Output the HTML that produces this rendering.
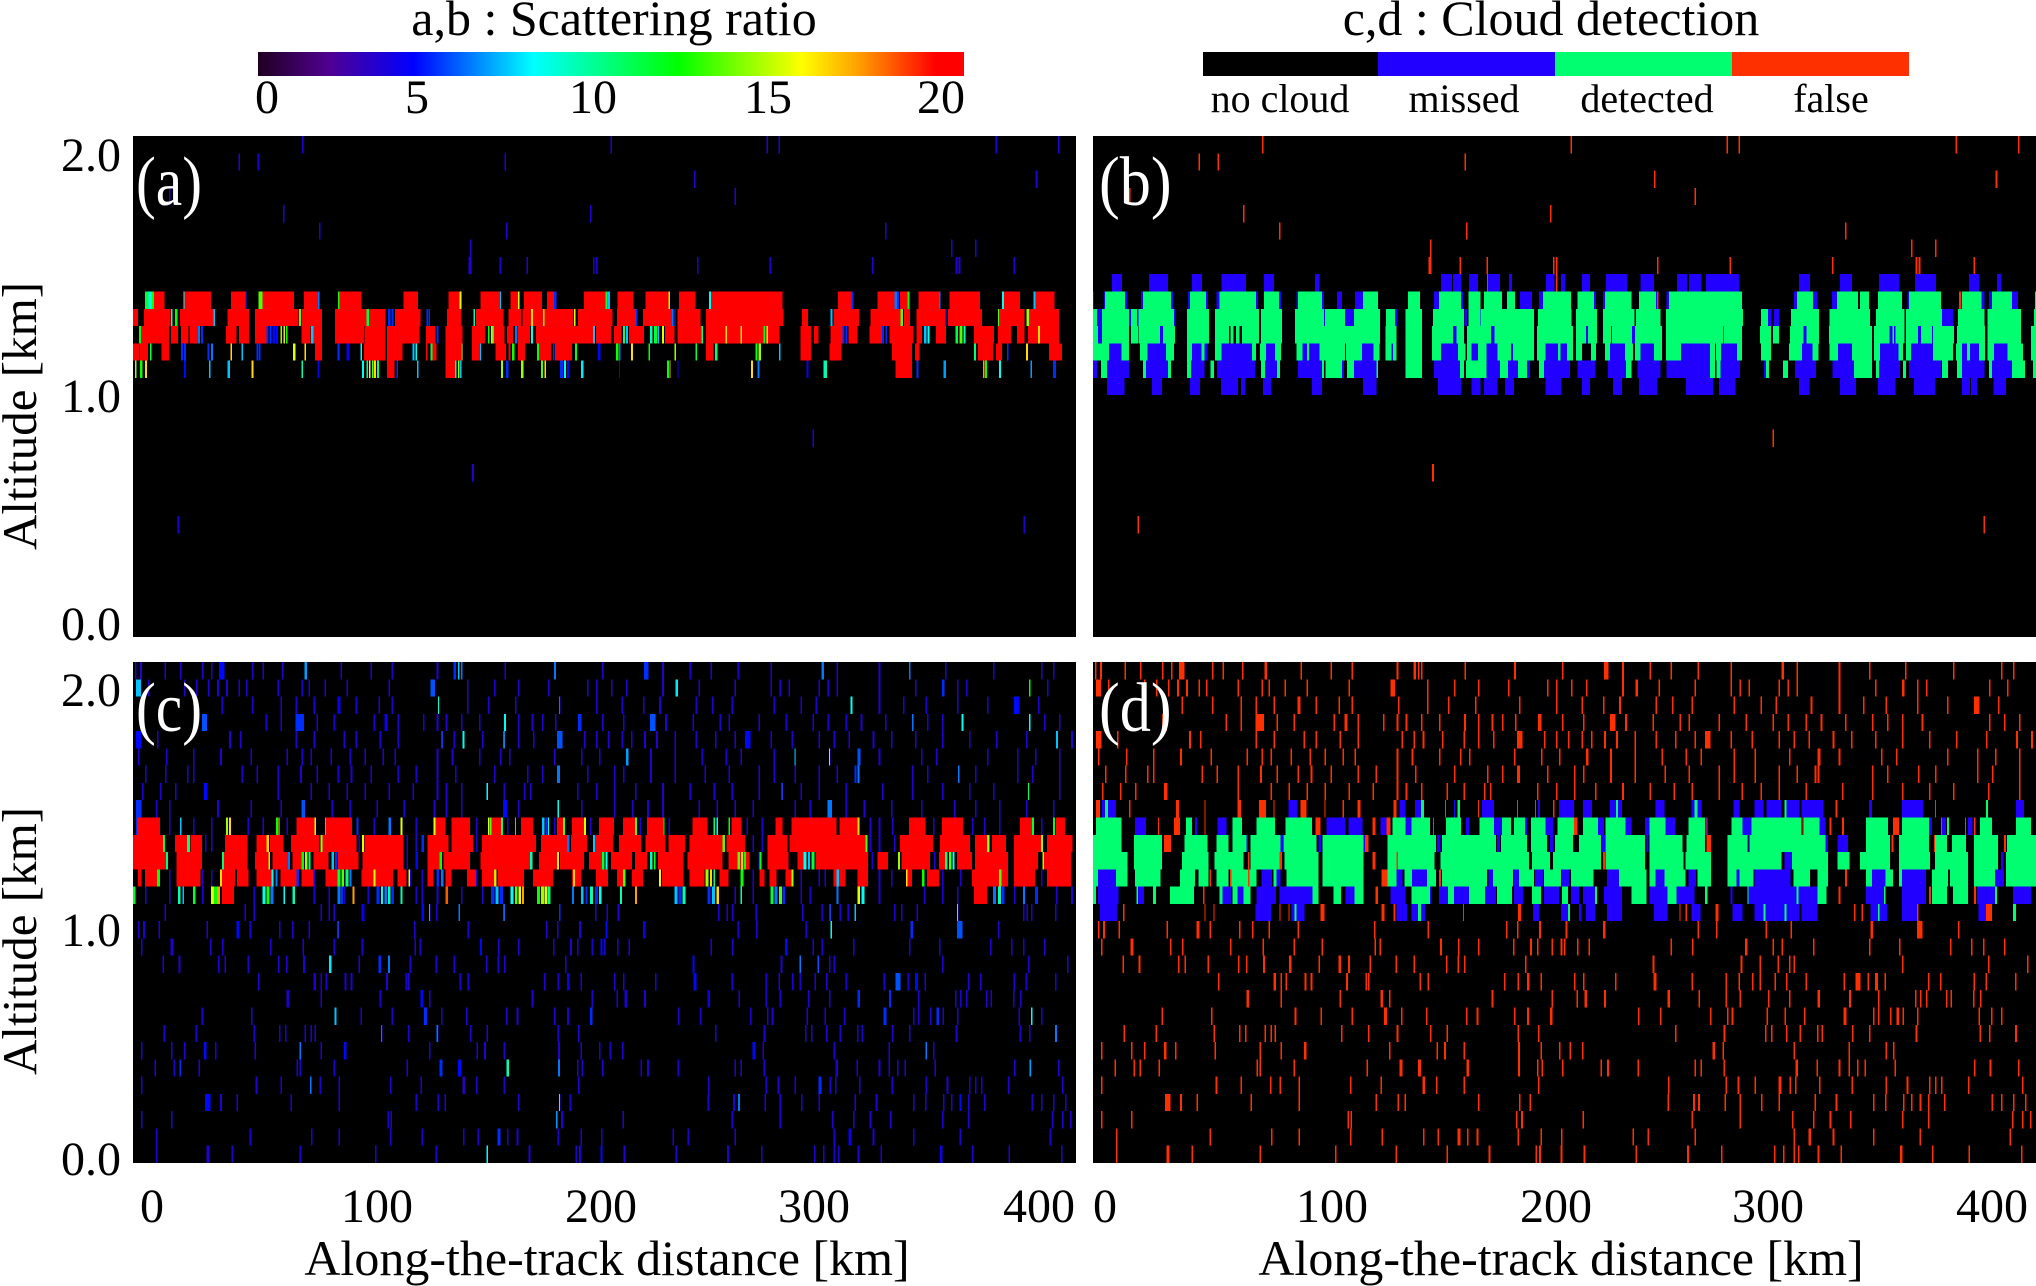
<!DOCTYPE html>
<html>
<head>
<meta charset="utf-8">
<title>Scattering ratio and cloud detection</title>
<style>
html,body{margin:0;padding:0;background:#fff;}
svg{display:block;}
text{font-family:"Liberation Serif",serif;fill:#000;}
rect.cell{shape-rendering:crispEdges;}
</style>
</head>
<body>
<svg id="figure" xmlns="http://www.w3.org/2000/svg" width="2036" height="1286" viewBox="0 0 2036 1286">
<defs>
<linearGradient id="srGradient" x1="0" x2="1" y1="0" y2="0"></linearGradient>
</defs>
<rect x="0" y="0" width="2036" height="1286" fill="#fff"/>

<text x="614" y="35" font-size="50" text-anchor="middle">a,b : Scattering ratio</text>
<rect x="258" y="52" width="706" height="24" fill="url(#srGradient)"/>
<g font-size="48" text-anchor="middle">
<text x="267" y="113">0</text>
<text x="417" y="113">5</text>
<text x="593" y="113">10</text>
<text x="768" y="113">15</text>
<text x="941" y="113">20</text>
</g>

<text x="1551" y="35" font-size="50" text-anchor="middle">c,d : Cloud detection</text>
<rect x="1203" y="52" width="176" height="24" fill="#000"/>
<rect x="1378" y="52" width="177" height="24" fill="#2200ff"/>
<rect x="1555" y="52" width="177" height="24" fill="#00ff70"/>
<rect x="1732" y="52" width="177" height="24" fill="#ff3000"/>
<g font-size="40" text-anchor="middle">
<text x="1280" y="112">no cloud</text>
<text x="1464" y="112">missed</text>
<text x="1647" y="112">detected</text>
<text x="1831" y="112">false</text>
</g>

<g id="panelA"></g>
<g id="panelB"></g>
<g id="panelC"></g>
<g id="panelD"></g>

<g font-size="48" text-anchor="end">
<text x="121" y="171">2.0</text>
<text x="121" y="412">1.0</text>
<text x="121" y="640">0.0</text>
<text x="121" y="706">2.0</text>
<text x="121" y="946">1.0</text>
<text x="121" y="1175">0.0</text>
</g>
<text transform="translate(36,416) rotate(-90)" font-size="49" text-anchor="middle">Altitude [km]</text>
<text transform="translate(36,941) rotate(-90)" font-size="49" text-anchor="middle">Altitude [km]</text>

<g font-size="48" text-anchor="middle">
<text x="152" y="1222">0</text>
<text x="377" y="1222">100</text>
<text x="601" y="1222">200</text>
<text x="814" y="1222">300</text>
<text x="1039" y="1222">400</text>
<text x="1105" y="1222">0</text>
<text x="1332" y="1222">100</text>
<text x="1556" y="1222">200</text>
<text x="1768" y="1222">300</text>
<text x="1992" y="1222">400</text>
</g>
<text x="607" y="1275" font-size="50" text-anchor="middle">Along-the-track distance [km]</text>
<text x="1561" y="1275" font-size="50" text-anchor="middle">Along-the-track distance [km]</text>

<g id="panelLabels" font-size="70">
<text transform="translate(136,205) scale(.85,1)" style="fill:#fff">(a)</text>
<text transform="translate(1099,205) scale(.89,1)" style="fill:#fff">(b)</text>
<text transform="translate(136,731) scale(.85,1)" style="fill:#fff">(c)</text>
<text transform="translate(1099,731) scale(.89,1)" style="fill:#fff">(d)</text>
</g>
</svg>

<script>
/* Data: profile numbers (0..1568 along track) and altitude bins (0 = top, 28 = bottom). */
const profileCount = 1568;
const binCount = 29;

/* Scattering-ratio colour scale stops. */
const srStops = [0, 2, 4.4, 7.8, 11.9, 15.4, 17, 19.2, 20];
const srColors = ['#200020', '#500090', '#0000ff', '#00ffff', '#00ff00', '#ffff00', '#ffa000', '#ff0000', '#ff0000'];

/* Panel a: sparse weak-signal marks, [bin, start profile]. */
const sparseA = [[0,281],[0,794],[0,1053],[0,1073],[0,1434],[0,1538],[1,175],[1,207],[1,618],[2,933],[2,1501],[3,60],[3,1000],[4,249],[4,760],[5,309],[5,620],[5,1250],[6,560],[6,1360],[6,1400],[7,558],[7,560],[7,609],[7,654],[7,770],[7,765],[7,938],[7,1058],[7,1229],[7,1368],[7,1373],[7,1464],[17,1130],[19,564],[22,74],[22,1481]];

/* Panel a: saturated cloud runs, bins 9..13 as flat start,end pairs. */
const redA = [
[35,52,85,130,163,187,215,268,284,308,342,380,450,474,525,545,578,610,628,640,650,680,688,700,750,790,806,832,852,890,908,935,960,1080,1172,1195,1238,1270,1275,1290,1306,1340,1358,1408,1448,1475,1500,1532],
[0,8,18,62,78,134,157,193,203,275,280,314,336,420,436,478,522,545,570,616,624,645,648,732,740,797,805,836,848,898,905,944,953,1082,1112,1122,1165,1207,1226,1278,1282,1292,1303,1350,1355,1412,1440,1482,1490,1540],
[15,60,63,75,80,92,95,108,155,172,176,193,203,222,280,295,300,314,336,384,385,420,422,476,487,503,520,548,564,585,600,618,622,632,640,660,670,765,770,795,800,812,825,850,885,900,905,945,953,985,985,1075,1110,1127,1132,1140,1160,1180,1190,1205,1225,1245,1258,1298,1303,1312,1335,1352,1398,1432,1438,1460,1470,1482,1488,1540],
[0,10,12,25,47,60,303,314,384,420,422,448,487,490,498,505,520,545,564,575,603,620,624,628,640,652,675,695,702,730,953,965,1110,1127,1158,1178,1262,1295,1300,1308,1405,1430,1435,1445,1523,1545],
[422,435,520,535,1268,1295]
];

/* Panel a: coloured cloud-edge marks, [bin, start, width, ratio]. */
const edgesA = [[9,20,6,11],[9,26,5,8],[9,31,4,12],[9,84,2,8],[9,187,2,5],[9,209,6,13],[9,308,2,6],[9,341,2,12],[9,543,3,15],[9,610,2,7],[9,640,3,15],[9,700,4,5],[9,786,3,11],[9,790,3,7],[9,890,3,14],[9,958,3,8],[9,1195,3,5],[9,1266,4,6],[9,1270,4,5],[9,1288,3,12],[9,1340,3,6],[9,1445,3,8],[9,1497,4,7],
[10,63,3,9],[10,70,4,12],[10,134,2,7],[10,276,3,13],[10,388,4,11],[10,424,4,5],[10,430,3,5],[10,488,3,5],[10,492,2,5],[10,566,3,9],[10,662,3,16],[10,682,2,14],[10,733,3,15],[10,836,3,5],[10,896,3,6],[10,900,2,5],[10,1160,3,7],[10,1276,4,13],[10,1350,3,5],[10,1438,2,13],[10,1486,4,14],
[11,10,4,12],[11,108,3,6],[11,113,3,5],[11,222,3,5],[11,227,3,5],[11,232,4,4.5],[11,238,3,4.5],[11,245,3,14],[11,250,3,16],[11,254,3,12],[11,296,4,7],[11,505,3,5],[11,590,3,12],[11,595,3,16],[11,598,2,11],[11,635,4,6],[11,662,3,8],[11,765,3,7],[11,815,3,10],[11,820,3,7],[11,860,4,9],[11,866,5,11],[11,872,3,7],[11,880,3,15],[11,945,3,10],[11,985,3,16],[11,1010,3,16],[11,1048,3,12],[11,1053,3,15],[11,1180,3,5],[11,1185,3,5],[11,1245,4,5],[11,1251,3,5],[11,1315,4,7],[11,1321,3,8],[11,1368,4,11],[11,1374,5,13],[11,1381,3,9],[11,1505,3,16],
[12,28,3,11],[12,80,3,5],[12,85,3,5],[12,124,3,5],[12,130,3,6],[12,162,3,16],[12,180,3,7],[12,205,3,5],[12,209,3,5],[12,266,4,15],[12,285,3,16],[12,340,3,5],[12,355,4,4],[12,378,3,8],[12,465,3,7],[12,470,2,8],[12,495,3,11],[12,546,2,15],[12,576,3,7],[12,630,4,12],[12,672,3,12],[12,698,3,5],[12,735,3,12],[12,773,4,4.5],[12,803,4,12],[12,808,3,6],[12,828,3,16],[12,857,3,12],[12,900,3,14],[12,935,3,11],[12,968,4,10],[12,1035,3,12],[12,1040,4,14],[12,1074,3,7],[12,1398,4,10],[12,1453,3,5],[12,1485,3,16],
[13,3,3,14],[13,12,4,12],[13,20,3,16],[13,85,3,4.5],[13,126,3,7],[13,157,4,7],[13,197,3,16],[13,280,3,9],[13,307,2,4],[13,381,3,8],[13,388,3,10],[13,392,3,15],[13,397,3,13],[13,401,3,16],[13,406,3,10],[13,438,3,5],[13,472,3,7],[13,535,3,9],[13,540,3,14],[13,544,2,7],[13,612,3,14],[13,620,4,5],[13,645,4,14],[13,678,4,13],[13,684,3,16],[13,710,5,5],[13,717,3,8],[13,722,3,4.5],[13,745,4,7.5],[13,808,2,4],[13,888,3,12],[13,892,2,17],[13,905,2,4],[13,1028,3,16],[13,1038,4,6],[13,1120,3,4],[13,1148,6,9],[13,1303,3,5],[13,1348,4,6.5],[13,1413,3,17],[13,1417,3,12],[13,1440,3,8],[13,1492,3,6.5],[13,1530,5,5]];

/* Panel b: categories, bins 8..14 as flat start,end pairs. */
const missedB = [
[32,48,93,125,165,181,214,254,284,301,369,377,579,597,599,612,625,640,657,677,692,697,753,767,778,785,813,826,853,888,910,933,971,988,991,1011,1019,1074,1174,1192,1242,1262,1307,1340,1367,1402,1457,1473,1503,1510],
[0,2,18,20,53,57,80,83,130,133,158,161,188,191,205,210,271,274,309,313,338,341,381,384,406,414,436,449,567,575,612,615,710,730,742,748,833,836,848,851,936,939,954,958,1166,1171,1197,1205,1229,1237,1354,1357,1440,1445,1477,1482,1490,1495,1528,1538],
[7,15,60,63,73,76,135,137,384,386,419,434,502,506,618,622,644,645,1122,1128,1132,1141,1412,1430],
[8,15,111,116,120,122,599,604,662,668,820,823,861,863,896,901,1049,1049,1181,1186,1324,1329,1332,1334,1372,1377,1395,1397],
[27,47,91,121,165,180,185,190,214,264,288,303,348,356,359,377,447,466,496,499,579,607,629,640,654,673,695,698,752,773,777,788,860,885,910,933,978,1026,1044,1071,1179,1196,1239,1262,1309,1339,1360,1397,1445,1453,1458,1473,1498,1521],
[0,7,23,60,88,125,163,185,206,269,286,306,341,381,414,417,434,471,567,610,654,677,690,707,722,727,750,793,806,835,856,886,905,944,954,1026,1043,1076,1116,1119,1167,1202,1230,1265,1307,1342,1357,1410,1445,1482,1495,1528],
[23,52,98,115,161,178,213,241,246,253,283,296,364,381,449,471,574,612,629,644,650,673,685,700,752,778,813,826,865,880,908,938,986,1031,1041,1068,1174,1191,1242,1269,1305,1334,1365,1400,1445,1458,1460,1470,1497,1518]
];
const detectedB = [
[],
[20,53,83,130,161,188,210,271,284,309,341,381,449,474,524,544,575,612,624,644,650,680,688,702,748,795,806,833,851,895,908,936,958,1079,1171,1197,1237,1272,1275,1290,1305,1345,1357,1410,1445,1477,1495,1528,1566,1568],
[0,7,15,60,63,73,76,135,156,193,203,276,279,314,336,384,386,419,434,477,487,502,520,547,565,617,624,644,645,733,740,796,803,838,848,900,903,944,953,1081,1111,1122,1161,1207,1225,1292,1302,1349,1352,1412,1438,1482,1487,1543,1565,1568],
[0,8,15,60,63,75,76,111,116,136,156,193,203,226,229,234,238,244,248,276,279,314,336,422,422,477,486,505,520,547,564,599,604,617,622,662,668,733,738,798,803,820,823,838,848,861,863,896,901,946,953,1048,1049,1079,1109,1127,1131,1141,1159,1181,1186,1207,1224,1295,1299,1324,1329,1332,1334,1349,1352,1372,1377,1395,1397,1432,1437,1483,1487,1543,1560,1568],
[0,27,47,60,78,91,121,135,156,165,180,185,203,214,264,271,278,288,303,313,338,348,356,359,377,419,421,447,466,476,486,496,499,505,520,547,564,579,607,619,622,629,640,654,673,695,698,733,738,752,773,777,788,798,803,813,828,836,851,860,885,898,901,910,933,946,953,978,1026,1034,1036,1044,1071,1079,1111,1127,1157,1179,1196,1206,1225,1239,1262,1295,1299,1309,1339,1347,1352,1360,1397,1430,1435,1445,1453,1458,1473,1483,1487,1498,1521,1546,1560,1568],
[13,23,83,88,125,130,156,163,195,201,279,286,306,311,381,384,387,414,422,434,471,474,520,547,610,617,620,654,677,690,707,722,742,750,835,835,886,895,1026,1034,1037,1043,1119,1124,1147,1156,1265,1295,1302,1307,1347,1352,1412,1422,1437,1445,1490,1495,1528,1550,1563,1568],
[]
];
const falseB = [[655,657,770,772],[938,940,1440,1443],[],[],[],[],[]];

/* Panel c: weak-signal marks per bin, start profile of each mark. */
const noiseC = [
[3,12,52,78,115,130,143,198,215,248,285,345,395,430,505,533,618,700,780,850,880,925,960,1005,1060,1145,1170,1240,1290,1350,1430,1510,1530],
[25,85,105,125,140,155,175,188,240,280,292,318,355,425,495,555,600,640,690,755,770,795,820,880,902,940,1000,1060,1075,1090,1140,1155,1170,1240,1300,1345,1370,1385,1490,1520],
[147,198,245,270,300,340,370,408,430,507,555,590,635,708,770,812,848,875,935,963,995,1065,1110,1135,1193,1240,1280,1318,1370,1420,1465,1505],
[118,220,245,270,305,333,400,418,440,482,505,520,545,575,617,640,663,680,702,740,780,815,860,885,930,975,990,1040,1085,1130,1155,1185,1210,1250,1295,1320,1345,1378,1490,1515,1540],
[40,160,178,270,300,350,370,410,440,513,533,548,580,616,640,665,705,750,770,790,812,828,850,870,900,935,968,1000,1018,1060,1095,1140,1165,1190,1230,1260,1300,1345,1390,1435,1485,1535,1560],
[8,55,100,145,195,255,280,295,328,360,385,415,435,505,530,575,610,625,700,745,775,820,860,900,945,985,1010,1065,1100,1157,1205,1240,1310,1335,1420,1470,1500,1540],
[20,53,90,100,180,205,240,278,305,340,362,395,440,470,505,535,600,655,680,705,755,800,815,860,900,950,990,1040,1065,1100,1140,1170,1200,1295,1320,1372,1400,1470,1495,1540],
[15,45,70,118,240,295,325,355,385,425,465,505,520,545,588,616,650,660,738,770,800,835,880,925,965,995,1040,1078,1110,1140,1185,1245,1295,1345,1390,1430,1488,1540],
[38,60,140,195,245,280,330,360,405,450,500,520,545,615,640,706,745,800,830,855,880,940,970,1000,1030,1100,1125,1155,1185,1215,1260,1310,1365,1400,1440,1485,1530],
[60,100,130,190,215,255,372,400,470,570,622,700,760,842,890,965,1020,1045,1225,1240,1262,1330,1395,1415,1440,1510],
[120,130,375,455,470,570,1030,1045,1225,1240,1265],
[455,470,1040,1228,1332],
[60,115,130,300,460,480,570,1010,1030,1110,1140,1150,1240,1260,1345,1375,1510],
[20,60,115,200,300,325,350,390,470,480,505,545,580,1000,1030,1110,1125,1240,1315,1345,1370,1465,1535,1560],
[52,185,200,312,325,333,380,480,492,504,541,616,708,768,787,806,973,987,996,1035,1112,1145,1158,1175,1188,1200,1265,1277,1303,1370,1480,1486,1493,1533],
[8,17,42,122,172,194,243,264,292,340,467,556,687,705,742,786,848,1005,1036,1118,1160,1293,1370,1438],
[13,62,128,148,228,282,333,380,468,476,577,607,640,698,727,738,762,777,783,805,824,960,996,1084,1130,1145,1197,1290,1340,1425,1460,1480,1515],
[49,76,141,152,190,241,254,283,326,375,408,424,460,503,533,587,606,617,718,930,1077,1108,1138,1157,1165,1345,1488,1553],
[208,300,312,320,352,362,421,453,457,543,556,683,706,722,744,800,815,868,932,995,1052,1073,1096,1108,1133,1152,1185,1248,1268,1288,1300,1316,1388,1408,1464,1484,1533],
[255,312,410,478,492,663,762,804,817,850,955,1007,1052,1075,1122,1157,1205,1257,1305,1367,1375,1385,1418,1426,1463,1475],
[114,196,335,378,430,484,512,554,620,638,700,722,760,906,943,1026,1054,1062,1120,1150,1182,1248,1297,1305,1325,1336,1346,1370,1472,1493,1510],
[51,104,200,243,253,285,295,302,412,457,505,560,588,706,740,968,1048,1117,1127,1152,1175,1204,1211,1262,1290,1368,1474,1490,1533],
[13,63,85,118,136,202,277,312,351,492,571,584,616,707,744,775,792,813,1030,1047,1165,1256,1318,1330],
[36,67,77,109,272,277,333,455,510,540,621,707,738,746,780,844,855,905,1000,1010,1048,1168,1203,1240,1256,1270,1283,1333,1465,1491,1538],
[13,204,245,294,310,342,427,478,548,570,616,740,956,1052,1072,1100,1140,1158,1167,1207,1261,1318,1353,1390,1400,1410,1455,1545],
[122,145,172,262,342,470,506,518,640,708,726,955,998,1006,1050,1075,1111,1140,1200,1235,1297,1317,1347,1360,1374,1388,1415,1494,1510,1530,1550],
[13,63,423,428,703,712,814,995,1075,1162,1197,1225,1259,1345,1388,1528,1545,1558],
[38,194,296,342,427,480,549,573,606,622,638,706,744,778,897,922,1000,1165,1190,1230,1297,1374,1524],
[38,122,164,277,402,503,588,658,736,742,777,816,902,988,1044,1132,1147,1165,1172,1205,1243,1342,1395,1456,1543]
];

/* Panel c: stronger or wider weak-signal marks, [bin, start, width, ratio]. */
const strongC = [[0,143,9,4.5],[0,285,4,6.5],[0,533,4,5],[0,540,3,7],[0,545,3,6],[0,700,3,6],[0,850,7,5],[0,1145,4,6],[0,1290,3,6],[1,5,8,7],[1,495,7,5.5],[1,902,4,7.5],[1,1490,2,12],[1,1345,4,5],[2,340,5,4],[2,507,2,8.5],[2,708,2,6],[2,1193,3,8],[2,1465,9,4.5],[3,115,8,5.5],[3,270,14,5],[3,418,5,4],[3,617,3,8],[3,740,6,5],[3,860,9,5.5],[3,1295,3,6],[3,1378,3,8],[3,1490,2,8],[4,5,9,4.5],[4,513,2,6],[4,548,3,8],[4,616,2,8],[4,705,9,5.5],[4,1018,9,4.5],[4,1535,3,7],[5,820,4,6.5],[5,1100,2,7],[5,1157,2,14],[5,1205,5,5.5],[6,705,5,6],[6,1200,3,5],[6,1205,3,6],[6,1372,2,6],[7,118,6,4.5],[7,588,2,8],[7,1078,2,6],[7,1488,2,10],[8,5,9,5],[8,280,6,5.5],[8,615,7,4.5],[8,706,2,8],[8,1155,7,6],
[14,380,5,4],[14,480,4,4.5],[14,492,2,7],[14,541,3,6],[14,616,2,7],[14,708,3,5],[14,1158,2,6],[14,1200,2,7],[14,1370,2,8],[15,172,5,4.5],[15,340,2,6],[15,786,3,4.5],[15,848,4,4],[15,1160,2,8],[15,1293,4,5],[15,1370,9,5.5],[16,62,5,3.5],[16,577,3,4.5],[16,777,4,4.5],[16,1084,4,4.5],[17,326,4,7.5],[17,408,4,5],[17,424,3,6],[17,930,4,4.5],[17,1108,3,6],[17,1138,3,5.5],[18,300,4,3.5],[18,722,4,4],[18,932,5,4.5],[18,1268,8,5.5],[18,1300,5,4.5],[19,255,4,3.5],[19,478,4,4.5],[19,817,4,3.5],[19,955,4,4],[19,1205,4,5],[19,1257,3,5],[20,335,3,7],[20,484,5,5],[20,760,4,5],[20,1248,5,5],[20,1336,4,5],[20,1493,3,8],[21,412,2,6],[21,505,2,6],[21,1048,4,3.5],[21,1533,3,6],[22,118,4,4.5],[22,277,2,6],[22,351,4,4.5],[22,1030,4,4.5],[22,1318,2,6],[23,77,3,5],[23,510,5,5],[23,540,5,4.5],[23,621,4,9],[23,707,3,6],[23,1168,4,3.5],[23,1491,2,6.5],[24,294,3,6],[24,548,4,3],[24,1140,5,5],[25,120,9,4.5],[25,708,2,8],[25,1006,3,6],[25,1374,4,4.5],[26,703,3,6.5],[27,606,5,5],[27,1190,4,4],[28,122,5,3.5],[28,588,2,8],[28,777,4,4.5],[28,1342,4,4]];

/* Panel c: saturated cloud runs, bins 9..13 as flat start,end pairs. */
const redC = [
[7,45,272,302,320,364,502,520,530,560,594,612,645,665,705,715,730,750,775,800,815,835,855,882,930,955,995,1012,1068,1080,1095,1170,1175,1205,1290,1318,1345,1380,1475,1495,1535,1550],
[0,50,70,90,96,115,153,190,205,222,228,250,263,310,315,372,385,450,490,525,530,565,580,670,678,722,728,755,768,798,808,845,852,885,890,918,925,980,987,1018,1055,1088,1092,1218,1275,1330,1342,1392,1400,1420,1428,1452,1465,1510,1520,1562],
[0,55,72,115,150,190,203,225,232,258,265,280,300,325,340,375,382,450,490,510,516,560,578,660,675,705,710,750,758,780,795,830,835,855,873,915,922,980,990,1025,1055,1090,1105,1115,1135,1222,1238,1255,1278,1325,1340,1350,1370,1395,1400,1455,1465,1505,1515,1560],
[8,14,20,40,72,112,148,170,173,192,205,230,245,272,280,300,320,340,380,400,403,432,440,455,490,500,520,530,555,570,580,600,606,650,665,698,730,745,770,790,805,815,830,848,880,915,925,950,975,990,1042,1050,1058,1070,1085,1095,1165,1185,1205,1222,1285,1295,1320,1340,1395,1455,1465,1500,1520,1560],
[148,168,1398,1420]
];

/* Panel c: coloured cloud-edge marks, [bin, start, width, ratio]. */
const edgesC = [[9,5,2,5],[9,78,3,7],[9,155,3,14],[9,160,3,16],[9,238,3,12],[9,242,2,15],[9,302,2,15],[9,319,2,12],[9,372,3,5],[9,425,4,6],[9,445,3,15],[9,500,3,15],[9,590,3,15],[9,594,2,13],[9,612,3,10],[9,635,2,12],[9,680,4,7],[9,686,3,5],[9,690,2,8],[9,715,3,13],[9,750,3,15],[9,835,3,13],[9,882,2,12],[9,965,3,10],[9,970,3,8],[9,990,3,12],[9,1205,3,16],[9,1530,3,12],[9,1495,3,11],
[10,50,3,11],[10,90,5,10],[10,222,4,16],[10,312,3,14],[10,381,3,15],[10,480,4,5],[10,722,4,6],[10,765,3,7],[10,980,4,13],[10,1218,3,13],[10,1510,3,14],[10,1420,4,14],
[11,55,3,10],[11,148,3,10],[11,225,3,14],[11,258,3,6],[11,280,4,12],[11,286,4,14],[11,292,3,10],[11,330,4,7],[11,336,3,5],[11,470,4,4.5],[11,510,4,12],[11,660,4,9],[11,705,3,15],[11,780,4,11],[11,786,3,8],[11,860,4,9],[11,866,3,12],[11,1005,4,13],[11,1011,3,16],[11,1016,3,12],[11,1042,3,12],[11,1115,5,8],[11,1122,4,7],[11,1128,5,11],[11,1272,3,14],[11,1350,4,10],[11,1357,4,13],[11,1363,3,8],[11,1512,3,14],
[12,40,5,12],[12,145,3,16],[12,230,4,8],[12,237,3,6],[12,272,4,5],[12,340,5,11],[12,347,4,13],[12,353,5,10],[12,360,3,6],[12,400,3,15],[12,458,3,15],[12,505,4,5],[12,512,4,6],[12,600,4,16],[12,732,3,16],[12,815,4,13],[12,875,3,15],[12,952,5,14],[12,959,4,16],[12,965,3,10],[12,1010,5,12],[12,1095,3,14],[12,1170,4,7],[12,1285,3,16],[12,1440,4,13],[12,1312,4,12],
[13,0,4,11],[13,75,4,9],[13,82,3,7],[13,100,4,11],[13,130,5,15],[13,135,5,12],[13,140,5,17],[13,215,5,8],[13,222,5,12],[13,229,5,6],[13,250,3,8],[13,265,4,9],[13,340,5,6],[13,346,3,5],[13,365,3,17],[13,405,5,5],[13,412,4,8],[13,418,4,6],[13,424,4,9],[13,430,4,5],[13,445,3,9],[13,520,4,18],[13,595,6,5],[13,603,5,7],[13,610,5,5],[13,628,5,8],[13,635,4,13],[13,641,4,15],[13,647,3,17],[13,672,5,12],[13,678,5,14],[13,684,5,15],[13,690,4,10],[13,730,3,6],[13,745,4,7],[13,752,4,5],[13,760,5,9],[13,768,5,5],[13,775,4,8],[13,810,3,9],[13,835,3,17],[13,900,5,7],[13,907,5,5],[13,914,5,9],[13,955,5,5],[13,963,5,7],[13,970,4,16],[13,1010,3,9],[13,1060,5,11],[13,1067,5,6],[13,1074,5,13],[13,1080,4,5],[13,1170,3,6],[13,1205,4,15],[13,1211,5,8],[13,1430,5,6],[13,1438,5,9],[13,1445,4,5],[13,1480,3,6],[13,1500,5,5]];

/* Panel d: categories, bins 8..14 as flat start,end pairs. */
const missedD = [
[15,38,325,340,510,520,535,550,600,602,647,667,740,743,775,800,815,830,860,880,935,950,995,1012,1065,1075,1100,1115,1120,1145,1150,1175,1178,1215,1290,1295,1345,1380,1535,1548],
[70,88,170,173,207,222,388,420,425,448,478,495,520,530,620,625,667,680,718,722,752,765,840,850,885,895,918,925,952,968,1018,1022,1080,1095,1208,1218,1390,1395,1410,1418,1455,1462],
[255,258,312,316,375,380,450,454,572,578,672,677,760,766,846,851,920,924,1085,1090,1218,1222,1238,1255],
[318,330,345,348,510,512,535,545,868,872,1000,1005,1150,1162,1345,1350,1510,1514],
[8,38,280,298,305,312,505,515,530,555,658,665,700,708,735,748,780,792,855,875,935,952,990,1003,1070,1075,1100,1160,1175,1180,1295,1318,1345,1385,1500,1515],
[8,42,75,85,215,230,240,250,272,304,310,365,420,435,445,448,495,520,560,563,575,625,652,670,700,715,750,775,795,808,815,835,850,880,925,955,970,1000,1060,1063,1090,1205,1285,1315,1345,1385,1470,1500,1530,1560],
[12,40,270,296,330,352,505,522,530,552,732,742,778,792,808,812,820,835,855,880,933,955,995,1010,1063,1080,1100,1175,1178,1205,1293,1320,1345,1370,1472,1495]
];
const detectedD = [
[20,25,545,550,606,610,870,873,1000,1005,1150,1153,1485,1488],
[5,47,155,165,232,248,272,303,320,364,498,520,530,560,587,612,643,667,680,695,700,718,728,752,772,800,815,840,852,885,925,952,990,1018,1062,1080,1095,1178,1180,1208,1285,1322,1345,1390,1420,1423,1475,1495,1535,1560],
[0,47,68,115,152,190,205,225,232,255,262,312,317,372,382,450,490,570,580,670,678,722,728,755,768,798,808,845,852,918,925,980,987,1018,1055,1088,1092,1218,1285,1325,1340,1390,1400,1420,1428,1452,1465,1505,1520,1568],
[0,57,68,115,148,192,202,250,262,310,318,375,382,450,490,568,578,725,730,760,765,845,852,918,925,982,985,1028,1055,1145,1162,1222,1238,1258,1275,1325,1340,1392,1400,1455,1465,1505,1518,1568],
[0,8,38,57,70,112,145,170,175,192,205,225,230,272,300,305,322,375,382,450,490,505,518,530,555,570,580,655,665,698,708,733,750,778,795,832,875,920,925,935,950,985,1005,1028,1055,1070,1075,1098,1165,1192,1205,1222,1285,1295,1318,1330,1340,1345,1395,1422,1425,1455,1465,1500,1518,1568],
[0,5,72,75,100,105,128,168,210,215,232,240,250,262,365,375,400,412,435,450,530,560,590,600,625,652,672,697,730,745,780,790,835,838,895,920,955,970,1018,1022,1088,1090,1170,1173,1205,1220,1315,1318,1395,1420,1430,1455,1500,1503],
[335,338,540,545,790,793,1115,1118,1150,1153,1305,1308,1530,1535]
];
const falseD = [
[5,12,60,62,138,143,185,187,240,246,276,288,300,302,345,355,385,387,415,417,440,445,500,505,585,587,640,642,705,707,735,737,765,767,1235,1238,1400,1402],
[108,110,135,145,185,187,370,378,465,470,488,495,565,567,800,806,1020,1022,1180,1182,1225,1228,1245,1249,1330,1340,1410,1412,1450,1452,1465,1467],
[118,130,452,458,1020,1028,1328,1331,1398,1400,1515,1518],
[258,260,310,314,465,470,505,507,848,851],
[194,196,228,230,258,260,480,490,575,579,1250,1254],
[183,185,470,474,1240,1243,1390,1393,1465,1468],
[50,52,185,187,200,202,310,312,325,327,378,385,480,485,500,503,615,617,707,712,975,977,985,988,1035,1040,1265,1268,1278,1280,1370,1373,1485,1495]
];

const svgNS = 'http://www.w3.org/2000/svg';
const panelTop = [136, 662];
const panelLeft = [133, 1093];
const panelWidth = 943;
const panelHeight = 501;

function xScale(profile, left) { return left + profile * panelWidth / profileCount; }
function yScale(bin, top) { return top + bin * panelHeight / binCount; }

function hexToRgb(hex) {
  return [parseInt(hex.slice(1, 3), 16), parseInt(hex.slice(3, 5), 16), parseInt(hex.slice(5, 7), 16)];
}
function srColor(value) {
  if (value <= srStops[0]) return srColors[0];
  for (let i = 1; i < srStops.length; i++) {
    if (value <= srStops[i]) {
      const t = (value - srStops[i - 1]) / (srStops[i] - srStops[i - 1]);
      const a = hexToRgb(srColors[i - 1]);
      const b = hexToRgb(srColors[i]);
      return 'rgb(' + a.map(function (c, k) { return Math.round(c + (b[k] - c) * t); }).join(',') + ')';
    }
  }
  return srColors[srColors.length - 1];
}

const gradient = document.getElementById('srGradient');
srStops.forEach(function (stopValue, i) {
  const stop = document.createElementNS(svgNS, 'stop');
  stop.setAttribute('offset', String(stopValue / 20));
  stop.setAttribute('stop-color', srColors[i]);
  gradient.appendChild(stop);
});

function addCell(group, left, top, bin, start, end, color) {
  const el = document.createElementNS(svgNS, 'rect');
  const x0 = xScale(start, left);
  const x1 = xScale(Math.min(end, profileCount), left);
  const y0 = yScale(bin, top);
  const y1 = yScale(bin + 1, top);
  el.setAttribute('class', 'cell');
  el.setAttribute('x', x0.toFixed(2));
  el.setAttribute('y', y0.toFixed(2));
  el.setAttribute('width', Math.max(x1 - x0, 0).toFixed(2));
  el.setAttribute('height', (y1 - y0).toFixed(2));
  el.setAttribute('fill', color);
  
  
  group.appendChild(el);
}

function addPanelBackground(group, left, top) {
  const el = document.createElementNS(svgNS, 'rect');
  el.setAttribute('x', String(left));
  el.setAttribute('y', String(top));
  el.setAttribute('width', String(panelWidth));
  el.setAttribute('height', String(panelHeight));
  el.setAttribute('fill', '#000');
  
  
  group.appendChild(el);
}

function drawPairs(group, left, top, firstBin, rows, color) {
  rows.forEach(function (pairs, r) {
    for (let i = 0; i + 1 < pairs.length; i += 2) {
      addCell(group, left, top, firstBin + r, pairs[i], pairs[i + 1], color);
    }
  });
}

function drawTriples(group, left, top, marks, skipBand, colorFn) {
  marks.forEach(function (m) {
    if (skipBand && m[0] >= 8 && m[0] <= 14) return;
    addCell(group, left, top, m[0], m[1], m[1] + m[2], colorFn(m[3]));
  });
}

const weakRatio = 3.4;
const thinWidth = 2.6;
const colorMissed = '#2200ff';
const colorDetected = '#00ff70';
const colorFalse = '#ff3000';
const colorRed = '#ff0000';

/* Panel a */
const gA = document.getElementById('panelA');
addPanelBackground(gA, panelLeft[0], panelTop[0]);
sparseA.forEach(function (m) {
  addCell(gA, panelLeft[0], panelTop[0], m[0], m[1], m[1] + thinWidth, srColor(weakRatio));
});
drawPairs(gA, panelLeft[0], panelTop[0], 9, redA, colorRed);
drawTriples(gA, panelLeft[0], panelTop[0], edgesA, false, srColor);

/* Panel b */
const gB = document.getElementById('panelB');
addPanelBackground(gB, panelLeft[1], panelTop[0]);
sparseA.forEach(function (m) {
  addCell(gB, panelLeft[1], panelTop[0], m[0], m[1], m[1] + thinWidth, colorFalse);
});
drawPairs(gB, panelLeft[1], panelTop[0], 8, missedB, colorMissed);
drawPairs(gB, panelLeft[1], panelTop[0], 8, detectedB, colorDetected);
drawPairs(gB, panelLeft[1], panelTop[0], 8, falseB, colorFalse);

/* Panel c */
const gC = document.getElementById('panelC');
addPanelBackground(gC, panelLeft[0], panelTop[1]);
noiseC.forEach(function (starts, bin) {
  starts.forEach(function (s) {
    addCell(gC, panelLeft[0], panelTop[1], bin, s, s + thinWidth, srColor(weakRatio));
  });
});
drawTriples(gC, panelLeft[0], panelTop[1], strongC, false, srColor);
drawPairs(gC, panelLeft[0], panelTop[1], 9, redC, colorRed);
drawTriples(gC, panelLeft[0], panelTop[1], edgesC, false, srColor);

/* Panel d */
const gD = document.getElementById('panelD');
addPanelBackground(gD, panelLeft[1], panelTop[1]);
noiseC.forEach(function (starts, bin) {
  if (bin >= 8 && bin <= 14) return;
  starts.forEach(function (s) {
    addCell(gD, panelLeft[1], panelTop[1], bin, s, s + thinWidth, colorFalse);
  });
});
drawTriples(gD, panelLeft[1], panelTop[1], strongC, true, function () { return colorFalse; });
drawPairs(gD, panelLeft[1], panelTop[1], 8, missedD, colorMissed);
drawPairs(gD, panelLeft[1], panelTop[1], 8, detectedD, colorDetected);
drawPairs(gD, panelLeft[1], panelTop[1], 8, falseD, colorFalse);
</script>
</body>
</html>
